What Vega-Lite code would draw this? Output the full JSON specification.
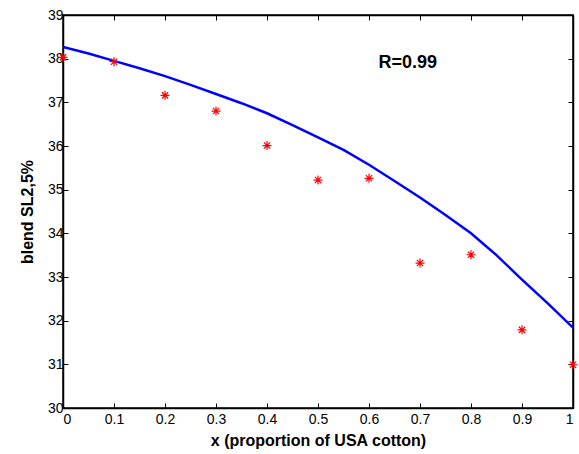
{
  "$schema": "https://vega.github.io/schema/vega-lite/v6.json",
  "autosize": "none",
  "padding": {"left": 63, "top": 15, "right": 6, "bottom": 46},
  "width": 510,
  "height": 393,
  "background": "white",
  "config": {
    "view": {"stroke": "#000000", "strokeWidth": 1.5},
    "font": "Liberation Sans",
    "axis": {
      "labelFont": "Liberation Sans",
      "labelFontSize": 14,
      "labelColor": "#000000",
      "titleFont": "Liberation Sans",
      "titleFontSize": 16,
      "titleFontWeight": "bold",
      "titleColor": "#000000",
      "domainColor": "#000000",
      "domainWidth": 1.5,
      "tickColor": "#000000",
      "tickWidth": 1,
      "grid": false
    }
  },
  "datasets": {
    "pts": [
      {"x": 0.0, "y": 38.03},
      {"x": 0.1, "y": 37.93},
      {"x": 0.2, "y": 37.16},
      {"x": 0.3, "y": 36.80},
      {"x": 0.4, "y": 36.01},
      {"x": 0.5, "y": 35.22},
      {"x": 0.6, "y": 35.26},
      {"x": 0.7, "y": 33.32},
      {"x": 0.8, "y": 33.51},
      {"x": 0.9, "y": 31.79},
      {"x": 1.0, "y": 30.99}
    ],
    "fit": [
      {"x": 0.0, "y": 38.27},
      {"x": 0.05, "y": 38.12},
      {"x": 0.1, "y": 37.95},
      {"x": 0.15, "y": 37.78},
      {"x": 0.2, "y": 37.60},
      {"x": 0.25, "y": 37.40},
      {"x": 0.3, "y": 37.19},
      {"x": 0.35, "y": 36.98},
      {"x": 0.4, "y": 36.75},
      {"x": 0.45, "y": 36.48},
      {"x": 0.5, "y": 36.20},
      {"x": 0.55, "y": 35.91},
      {"x": 0.6, "y": 35.57},
      {"x": 0.65, "y": 35.20},
      {"x": 0.7, "y": 34.82},
      {"x": 0.75, "y": 34.42},
      {"x": 0.8, "y": 34.00},
      {"x": 0.85, "y": 33.50},
      {"x": 0.9, "y": 32.94},
      {"x": 0.95, "y": 32.40},
      {"x": 1.0, "y": 31.84}
    ],
    "note": [
      {"x": 0.676, "y": 37.9, "label": "R=0.99"}
    ]
  },
  "layer": [
    {
      "data": {"name": "fit"},
      "mark": {"type": "line", "color": "#0000FF", "strokeWidth": 2.5, "clip": true},
      "encoding": {
        "x": {
          "field": "x", "type": "quantitative",
          "scale": {"domain": [0, 1], "nice": false, "zero": false},
          "axis": {
            "title": "x (proportion of USA cotton)",
            "values": [0, 0.1, 0.2, 0.3, 0.4, 0.5, 0.6, 0.7, 0.8, 0.9, 1],
            "format": "~g",
            "tickSize": -5,
            "labelPadding": 9,
            "titlePadding": 6
          }
        },
        "y": {
          "field": "y", "type": "quantitative",
          "scale": {"domain": [30, 39], "nice": false, "zero": false},
          "axis": {
            "title": "blend SL2,5%",
            "values": [30, 31, 32, 33, 34, 35, 36, 37, 38, 39],
            "tickSize": -5,
            "labelPadding": 5,
            "titlePadding": 12
          }
        }
      }
    },
    {
      "data": {"name": "pts"},
      "mark": {
        "type": "point",
        "shape": "M-1,0L1,0M0,-1L0,1M-0.7,-0.7L0.7,0.7M-0.7,0.7L0.7,-0.7",
        "filled": false,
        "color": "#FF0000",
        "strokeWidth": 1.2,
        "size": 80,
        "opacity": 1,
        "clip": false
      },
      "encoding": {
        "x": {
          "field": "x", "type": "quantitative",
          "scale": {"domain": [0, 1], "nice": false, "zero": false},
          "axis": {
            "orient": "top", "title": null, "labels": false,
            "values": [0, 0.1, 0.2, 0.3, 0.4, 0.5, 0.6, 0.7, 0.8, 0.9, 1],
            "tickSize": -5
          }
        },
        "y": {
          "field": "y", "type": "quantitative",
          "scale": {"domain": [30, 39], "nice": false, "zero": false},
          "axis": {
            "orient": "right", "title": null, "labels": false,
            "values": [30, 31, 32, 33, 34, 35, 36, 37, 38, 39],
            "tickSize": -5
          }
        }
      }
    },
    {
      "data": {"name": "note"},
      "mark": {"type": "text", "font": "Liberation Sans", "fontWeight": "bold", "fontSize": 18, "color": "#000000", "align": "center", "baseline": "middle"},
      "encoding": {
        "x": {"field": "x", "type": "quantitative", "axis": null},
        "y": {"field": "y", "type": "quantitative", "axis": null},
        "text": {"field": "label"}
      }
    }
  ],
  "resolve": {"axis": {"x": "independent", "y": "independent"}}
}
